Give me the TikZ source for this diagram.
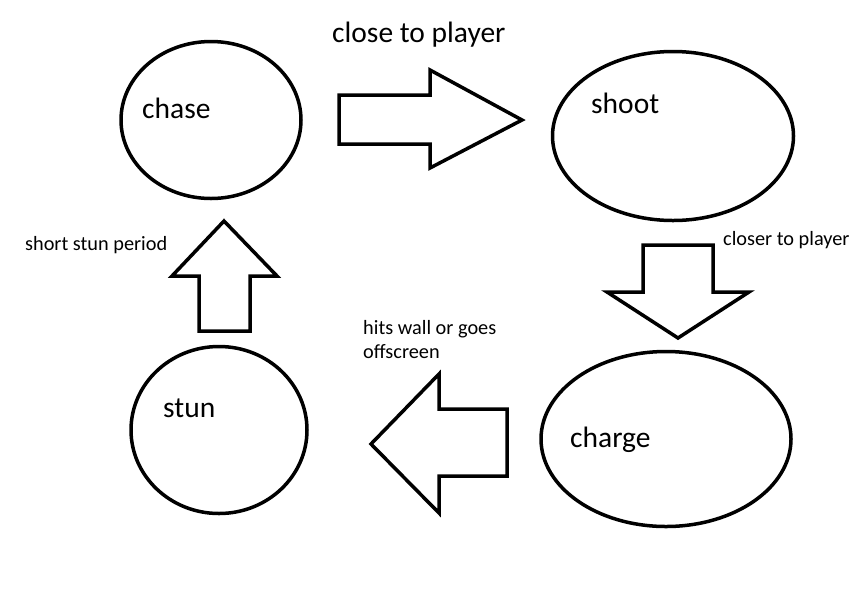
\documentclass[tikz,border=0pt]{standalone}
\usepackage{fontspec}
\setmainfont{Carlito}
\usetikzlibrary{shapes.geometric}
\begin{document}
\begin{tikzpicture}[x=1pt,y=-1pt,
  blockarrow/.style={draw=black,line width=3.5pt,fill=white,line join=miter},
  st/.style={draw=black,line width=3.5pt,ellipse,inner sep=0pt},
  big/.style={font=\fontsize{29.5}{33}\selectfont,inner sep=0pt,anchor=base west},
  small/.style={font=\fontsize{20.3}{24}\selectfont,inner sep=0pt,anchor=base west}]
\useasboundingbox[fill=white] (0,0) rectangle (866,595);
% states
\node[st,minimum width=180,minimum height=157] (chase) at (211,120) {};
\node[st,minimum width=241,minimum height=169] (shoot) at (673,136) {};
\node[st,minimum width=250,minimum height=175] (charge) at (666,439) {};
\node[st,minimum width=176,minimum height=167] (stun) at (219,430) {};
% block arrows
\draw[blockarrow] (339,95) -- (430,95) -- (430,70) -- (522,120) -- (430,168) -- (430,144) -- (339,144) -- cycle;
\draw[blockarrow] (643,245) -- (713,245) -- (713,292) -- (749,292) -- (678,338) -- (607,292) -- (643,292) -- cycle;
\draw[blockarrow] (507,409) -- (439,409) -- (439,374) -- (371,444) -- (439,513) -- (439,476) -- (507,476) -- cycle;
\draw[blockarrow] (199,331) -- (199,276) -- (172,276) -- (224,221) -- (277,276) -- (250,276) -- (250,331) -- cycle;
% labels
\node[big] (tchase) at (142,118) {chase};
\node[big] (tshoot) at (591,113) {shoot};
\node[big] (tcharge) at (570,447) {charge};
\node[big] (tstun) at (163,417) {stun};
\node[big] (lclose) at (332,42) {close to player};
\node[small] (lcloser) at (723,245) {closer to player};
\node[small] (lshort) at (25,250) {short stun period};
\node[small] (lhits1) at (363,334) {hits wall or goes};
\node[small] (lhits2) at (363,358) {offscreen};
\end{tikzpicture}
\end{document}
